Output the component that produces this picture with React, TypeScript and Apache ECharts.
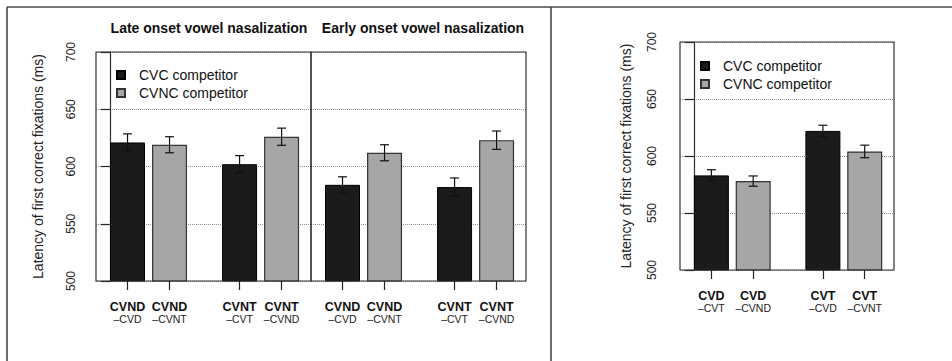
import React, { useEffect, useRef } from "react";
import * as echarts from "echarts";

// ---- data ----
const seriesNames = ["CVC competitor", "CVNC competitor"];
const panelTitles = ["Late onset vowel nasalization", "Early onset vowel nasalization"];
const yTicks = [500, 550, 600, 650, 700];
const yTitle = "Latency of first correct fixations (ms)";

const leftTop = ["CVND", "CVND", "CVNT", "CVNT"];
const leftSub = ["–CVD", "–CVNT", "–CVT", "–CVND"];
const rightTop = ["CVD", "CVD", "CVT", "CVT"];
const rightSub = ["–CVT", "–CVND", "–CVD", "–CVNT"];

const lateCVC = [621, 602];
const lateCVNC = [619, 626];
const lateCVCErr = [7.5, 7.5];
const lateCVNCErr = [7, 7.5];

const earlyCVC = [584, 582];
const earlyCVNC = [612, 623];
const earlyCVCErr = [7, 8];
const earlyCVNCErr = [7, 8];

const rightCVC = [583, 622];
const rightCVNC = [578, 604];
const rightCVCErr = [5, 5];
const rightCVNCErr = [4.5, 5.5];

// ---- layout helpers ----
const FONT = "Liberation Sans, Arial, Helvetica, sans-serif";
const pos = (g: number, k: number) => 0.5 + g * 3.2 + k * 1.2;
const tickPositions = [pos(0, 0), pos(0, 1), pos(1, 0), pos(1, 1)];

const panels = [
  { cvc: lateCVC, cvnc: lateCVNC, cvcE: lateCVCErr, cvncE: lateCVNCErr, top: leftTop, sub: leftSub },
  { cvc: earlyCVC, cvnc: earlyCVNC, cvcE: earlyCVCErr, cvncE: earlyCVNCErr, top: leftTop, sub: leftSub },
  { cvc: rightCVC, cvnc: rightCVNC, cvcE: rightCVCErr, cvncE: rightCVNCErr, top: rightTop, sub: rightSub },
];

const grids = [
  { left: 96, top: 52, width: 215, height: 229 },
  { left: 311, top: 52, width: 215, height: 229 },
  { left: 680, top: 42, width: 214, height: 228 },
];

const cvcStyle = { color: "#1b1b1b", borderColor: "#000", borderWidth: 1 };
const cvncStyle = { color: "#a6a6a6", borderColor: "#333", borderWidth: 1.2 };

function errorRender(params: any, api: any) {
  const x = api.value(0);
  const y = api.value(1);
  const e = api.value(2);
  const t = api.coord([x, y + e]);
  const b = api.coord([x, y - e]);
  const hw = 4.5;
  const st = { stroke: "#111", lineWidth: 1.2 };
  return {
    type: "group",
    children: [
      { type: "line", shape: { x1: t[0], y1: t[1], x2: b[0], y2: b[1] }, style: st },
      { type: "line", shape: { x1: t[0] - hw, y1: t[1], x2: t[0] + hw, y2: t[1] }, style: st },
      { type: "line", shape: { x1: b[0] - hw, y1: b[1], x2: b[0] + hw, y2: b[1] }, style: st },
    ],
  };
}

export default function App() {
  const ref = useRef<HTMLDivElement>(null);
  useEffect(() => {
    if (!ref.current) return;
    const chart = echarts.init(ref.current, undefined, { renderer: "svg" });

    const xAxis = panels.map((p, i) => ({
      type: "value",
      gridIndex: i,
      min: -0.4,
      max: 5.74,
      axisLine: { show: false },
      splitLine: { show: false },
      axisTick: {
        show: true,
        customValues: tickPositions,
        length: 9,
        lineStyle: { color: "#222", width: 1.2 },
      },
      axisLabel: {
        show: true,
        customValues: tickPositions,
        margin: 19,
        formatter: (v: number) => {
          let idx = 0;
          tickPositions.forEach((tp, j) => {
            if (Math.abs(tp - v) < 1e-6) idx = j;
          });
          return `{a|${p.top[idx]}}\n{b|${p.sub[idx]}}`;
        },
        rich: {
          a: { fontFamily: FONT, fontSize: 12.5, fontWeight: "bold", color: "#111", lineHeight: 13 },
          b: { fontFamily: FONT, fontSize: 10.5, color: "#222", lineHeight: 12 },
        },
      },
    }));

    const yAxis = panels.map((p, i) => {
      const showAxis = i !== 1;
      return {
        type: "value",
        gridIndex: i,
        min: yTicks[0],
        max: yTicks[yTicks.length - 1],
        interval: 50,
        name: showAxis ? yTitle : "",
        nameLocation: "middle",
        nameGap: i === 0 ? 51 : 47,
        nameTextStyle: { fontFamily: FONT, fontSize: 14, color: "#222" },
        axisLine: { show: showAxis, lineStyle: { color: "#333", width: 1.2 } },
        axisTick: { show: showAxis, length: 9, lineStyle: { color: "#222", width: 1.2 } },
        axisLabel: {
          show: showAxis,
          rotate: 90,
          margin: i === 0 ? 19 : 22,
          fontFamily: FONT,
          fontSize: 12,
          color: "#222",
        },
        splitLine: { show: true, lineStyle: { type: "dotted", color: "#8f8f8f", width: 1 } },
      };
    });

    const series: any[] = [];
    panels.forEach((p, i) => {
      series.push({
        type: "bar",
        name: seriesNames[0],
        xAxisIndex: i,
        yAxisIndex: i,
        barWidth: 35,
        barGap: "-100%",
        itemStyle: cvcStyle,
        data: p.cvc.map((v, g) => [pos(g, 0), v]),
      });
      series.push({
        type: "bar",
        name: seriesNames[1],
        xAxisIndex: i,
        yAxisIndex: i,
        barWidth: 35,
        barGap: "-100%",
        itemStyle: cvncStyle,
        data: p.cvnc.map((v, g) => [pos(g, 1), v]),
      });
      series.push({
        type: "custom",
        xAxisIndex: i,
        yAxisIndex: i,
        z: 4,
        encode: { x: 0, y: 1 },
        renderItem: errorRender,
        data: [
          ...p.cvc.map((v, g) => [pos(g, 0), v, p.cvcE[g]]),
          ...p.cvnc.map((v, g) => [pos(g, 1), v, p.cvncE[g]]),
        ],
      });
    });

    const legendBase = {
      orient: "vertical",
      icon: "rect",
      itemWidth: 8,
      itemHeight: 8,
      itemGap: 4,
      padding: 0,
      data: seriesNames,
      selectedMode: false,
      textStyle: { fontFamily: FONT, fontSize: 14, color: "#111", padding: [0, 0, 0, 9] },
    };

    const frame = { stroke: "#4a4a4a", lineWidth: 1.6 };

    chart.setOption({
      animation: false,
      backgroundColor: "#fff",
      title: [
        {
          text: panelTitles[0],
          left: 204,
          top: 16,
          textAlign: "center",
          textStyle: { fontFamily: FONT, fontSize: 14, fontWeight: "bold", color: "#111" },
        },
        {
          text: panelTitles[1],
          left: 418,
          top: 16,
          textAlign: "center",
          textStyle: { fontFamily: FONT, fontSize: 14, fontWeight: "bold", color: "#111" },
        },
      ],
      legend: [
        { ...legendBase, left: 116, top: 68 },
        { ...legendBase, left: 700, top: 59 },
      ],
      grid: grids.map((g) => ({
        ...g,
        show: true,
        z: 3,
        borderColor: "#333",
        borderWidth: 1.2,
        backgroundColor: "transparent",
      })),
      xAxis,
      yAxis,
      series,
      graphic: [
        { type: "line", shape: { x1: 7, y1: 7, x2: 952, y2: 7 }, style: frame, z: 10 },
        { type: "line", shape: { x1: 7, y1: 7, x2: 7, y2: 361 }, style: frame, z: 10 },
        { type: "line", shape: { x1: 551, y1: 7, x2: 551, y2: 361 }, style: frame, z: 10 },
      ],
    });
    return () => chart.dispose();
  }, []);
  return (
    <div
      ref={ref}
      style={{ position: "fixed", left: 0, top: 0, width: 952, height: 361 }}
    />
  );
}
